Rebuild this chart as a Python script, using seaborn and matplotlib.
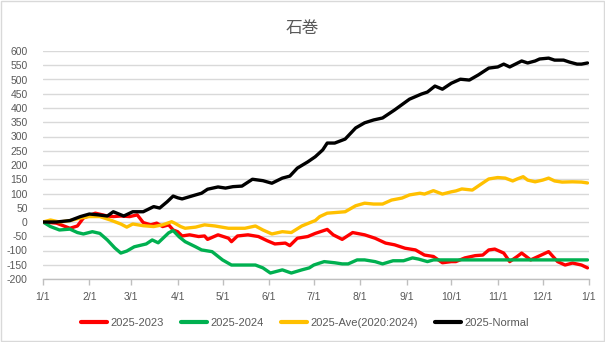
import matplotlib
matplotlib.use("Agg")
import matplotlib.pyplot as plt
from matplotlib.patches import Rectangle
import seaborn as sns
import pandas as pd
import numpy as np

# ---- data (day offset from Jan 1, cumulative difference) ----
series_names = ["2025-2023", "2025-2024", "2025-Ave(2020:2024)", "2025-Normal"]
series_colors = ["#FF0000", "#00B050", "#FFC000", "#000000"]

red_days = [0,9,18,23,27,35,43,47,52,58,63,67,72,76,80,84,87,90,93,98,104,108,110,117,124,126,130,137,144,150,
            155,162,165,170,177,182,190,194,200,207,215,222,229,235,242,249,255,261,267,273,276,282,289,294,298,302,
            308,312,317,320,326,331,338,344,349,354,360,364]
red_vals = [0,-4,-22,-14,14,31,21,19,21,19,25,-2,-10,-4,-16,-10,-28,-34,-49,-45,-51,-49,-61,-45,-57,-69,-49,-45,-51,-66,
            -77,-74,-83,-57,-51,-40,-26,-45,-61,-37,-45,-57,-74,-80,-92,-98,-116,-121,-143,-139,-139,-126,-118,-116,-98,-95,
            -109,-139,-121,-109,-133,-121,-104,-139,-151,-144,-151,-161]

green_days = [0,5,11,18,23,27,33,38,43,48,52,56,61,69,73,77,84,87,91,95,102,106,113,120,126,133,142,147,152,160,
              166,173,178,181,185,188,195,200,204,210,215,222,227,234,241,247,251,257,261,364]
green_vals = [0,-16,-28,-25,-37,-42,-34,-40,-63,-91,-109,-102,-87,-77,-63,-73,-38,-30,-52,-69,-87,-98,-104,-133,-151,-151,-151,-161,-179,-168,
              -179,-168,-161,-151,-144,-139,-143,-147,-147,-133,-133,-139,-147,-136,-136,-126,-130,-139,-133,-133]

yellow_days = [0,5,11,18,25,31,38,45,52,56,60,67,74,80,86,88,92,95,102,108,115,124,135,142,147,153,160,166,173,180,
               182,185,190,195,202,209,215,221,227,233,240,245,252,255,261,267,273,276,280,287,292,298,304,309,314,317,
               321,324,329,334,338,342,347,354,360,364]
yellow_vals = [0,7,0,5,14,19,19,7,-7,-18,-7,-13,-16,-10,1,-4,-16,-22,-18,-10,-14,-22,-22,-14,-28,-42,-34,-37,-14,1,
               5,19,31,33,36,57,66,63,63,77,84,95,101,98,110,98,106,109,116,112,130,151,156,154,144,151,
               159,147,141,147,154,144,140,141,140,137]

black_days = [0,9,18,25,31,37,43,47,54,60,67,74,78,83,87,90,93,102,106,110,117,122,127,133,140,147,153,160,165,170,
              177,182,187,190,195,202,209,215,221,227,235,245,253,257,262,267,273,279,285,291,298,304,308,312,320,324,
              329,332,338,342,348,352,357,360,364]
black_vals = [0,0,5,19,28,25,21,36,21,36,36,54,49,71,91,85,81,95,101,115,123,119,124,126,150,145,136,154,161,189,
              211,229,253,277,277,291,330,348,358,365,393,431,449,456,477,466,487,501,498,516,540,544,554,544,565,558,
              565,572,575,568,568,561,554,554,558]

month_labels = ["1/1","2/1","3/1","4/1","5/1","6/1","7/1","8/1","9/1","10/1","11/1","12/1","1/1"]
y_ticks = list(range(-200, 601, 50))
title = "石巻"

# ---- build long-form table ----
frames = []
for name, d, v in zip(series_names,
                      [red_days, green_days, yellow_days, black_days],
                      [red_vals, green_vals, yellow_vals, black_vals]):
    frames.append(pd.DataFrame({"day": d, "value": v, "series": name}))
df = pd.concat(frames, ignore_index=True)

month_pos = [(d - pd.Timestamp("2025-01-01")).days
             for d in pd.date_range("2025-01-01", "2026-01-01", freq="MS")]

sns.set_theme(style="white")
plt.rcParams["font.family"] = ["Liberation Sans", "DejaVu Sans"]

fig = plt.figure(figsize=(6.05, 3.42), dpi=100)
ax = fig.add_axes([43/605, 1-279/342, (589-43)/605, (279-51)/342])

sns.lineplot(data=df, x="day", y="value", hue="series", hue_order=series_names,
             palette=dict(zip(series_names, series_colors)), estimator=None,
             linewidth=2.4, ax=ax, sort=True)
for ln in ax.lines:
    ln.set_solid_joinstyle("round")
    ln.set_solid_capstyle("round")

ax.set_xlim(0, 365)
ax.set_ylim(-200, 600)
ax.set_yticks(y_ticks)
ax.set_yticklabels([str(t) for t in y_ticks])
ax.set_xticks(month_pos)
ax.set_xticklabels(month_labels)
ax.set_xlabel("")
ax.set_ylabel("")

ax.yaxis.grid(True, color="#d9d9d9", linewidth=1)
ax.xaxis.grid(False)
ax.set_axisbelow(True)
for s in ["top", "right", "left"]:
    ax.spines[s].set_visible(False)
ax.spines["bottom"].set_color("#bfbfbf")
ax.spines["bottom"].set_linewidth(1)

ax.tick_params(axis="y", length=0, pad=11, labelsize=7.5, labelcolor="#595959")
ax.tick_params(axis="x", direction="out", length=4, width=1, color="#bfbfbf",
               pad=5, labelsize=7.5, labelcolor="#595959", bottom=True)

handles, labels = ax.get_legend_handles_labels()
ax.get_legend().remove()
leg = fig.legend(handles, labels, loc="center", bbox_to_anchor=(0.504, 1-323/342),
                 ncol=4, frameon=False, fontsize=8, handlelength=2.3,
                 handletextpad=0.3, columnspacing=1.6, labelcolor="#595959")
for h in leg.get_lines():
    h.set_linewidth(3)

fig.text(0.5, 1-28/342, title, ha="center", va="center", fontsize=12,
         color="#595959", family=["Noto Sans CJK JP", "DejaVu Sans"])

fig.patches.append(Rectangle((0.0015, 0.003), 0.997, 0.994, transform=fig.transFigure,
                             fill=False, edgecolor="#d9d9d9", linewidth=1))

fig.savefig("out.png", dpi=100)
